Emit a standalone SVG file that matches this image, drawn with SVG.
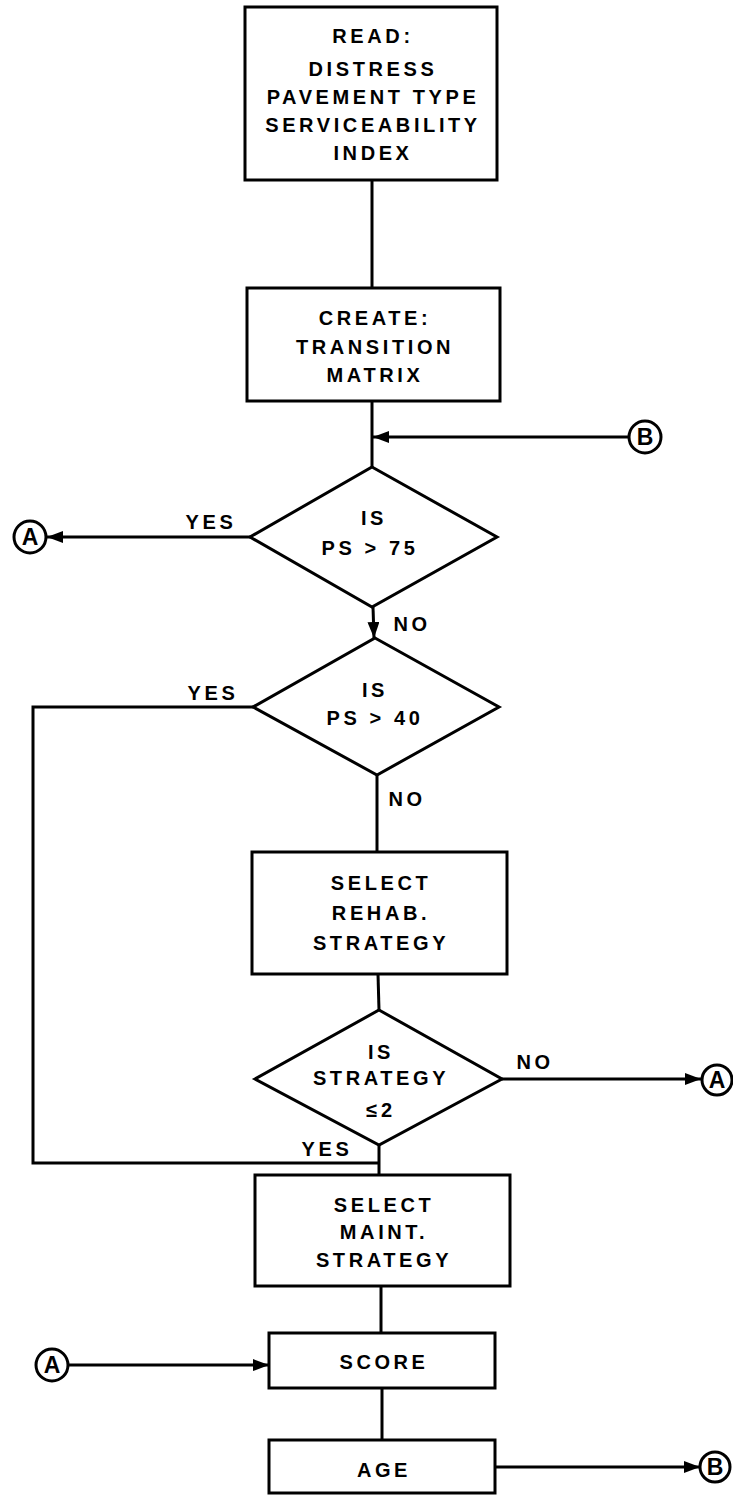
<svg xmlns="http://www.w3.org/2000/svg" width="733" height="1495" viewBox="0 0 733 1495">
<style>
.box{fill:#fff;stroke:#000;stroke-width:3}
.dia{fill:#fff;stroke:#000;stroke-width:3;stroke-linejoin:miter}
.ln{fill:none;stroke:#000;stroke-width:3}
.t{font-family:"Liberation Sans",Arial,sans-serif;font-weight:bold;font-size:20px;letter-spacing:3.6px;text-anchor:middle;fill:#000}
.c{font-family:"Liberation Sans",Arial,sans-serif;font-weight:bold;font-size:23px;text-anchor:middle;fill:#000}
.circ{fill:#fff;stroke:#000;stroke-width:3}
</style>
<defs>
<marker id="arr" markerUnits="userSpaceOnUse" markerWidth="16" markerHeight="12" refX="16" refY="6" orient="auto">
<path d="M0,0 L16,6 L0,12 z" fill="#000"/>
</marker>
</defs>
<rect width="733" height="1495" fill="#fff"/>
<g id="connectors">
<line class="ln" x1="372" y1="180" x2="372" y2="288"/>
<line class="ln" x1="372" y1="401" x2="372" y2="467"/>
<line class="ln" x1="629" y1="437" x2="373" y2="437" marker-end="url(#arr)"/>
<line class="ln" x1="250" y1="537" x2="47" y2="537" marker-end="url(#arr)"/>
<line class="ln" x1="373" y1="607" x2="374" y2="638" marker-end="url(#arr)"/>
<polyline class="ln" points="253,707 33,707 33,1163 379,1163"/>
<line class="ln" x1="377" y1="775" x2="377" y2="852"/>
<line class="ln" x1="378" y1="974" x2="379" y2="1010"/>
<line class="ln" x1="502" y1="1079" x2="701" y2="1079" marker-end="url(#arr)"/>
<line class="ln" x1="379" y1="1145" x2="379" y2="1175"/>
<line class="ln" x1="381" y1="1286" x2="381" y2="1333"/>
<line class="ln" x1="68" y1="1365" x2="269" y2="1365" marker-end="url(#arr)"/>
<line class="ln" x1="382" y1="1388" x2="382" y2="1440"/>
<line class="ln" x1="495" y1="1467" x2="700" y2="1467" marker-end="url(#arr)"/>
<text class="t" x="211" y="529">YES</text>
<text class="t" x="412" y="631">NO</text>
<text class="t" x="213" y="700">YES</text>
<text class="t" x="407" y="806">NO</text>
<text class="t" x="535" y="1069">NO</text>
<text class="t" x="327" y="1156">YES</text>
</g>
<g id="read">
<rect class="box" x="245" y="7" width="252" height="173"/>
<text class="t" x="373" y="43">READ:</text>
<text class="t" x="373" y="76">DISTRESS</text>
<text class="t" x="373" y="104">PAVEMENT TYPE</text>
<text class="t" x="373" y="132">SERVICEABILITY</text>
<text class="t" x="373" y="160">INDEX</text>
</g>
<g id="create">
<rect class="box" x="247" y="288" width="253" height="113"/>
<text class="t" x="375" y="325">CREATE:</text>
<text class="t" x="375" y="354">TRANSITION</text>
<text class="t" x="375" y="382">MATRIX</text>
</g>
<g id="connB1">
<circle class="circ" cx="645" cy="437" r="16"/>
<text class="c" x="645" y="445">B</text>
</g>
<g id="dec1">
<polygon class="dia" points="372,467 497,537 372,607 250,537"/>
<text class="t" x="374" y="525">IS</text>
<text class="t" x="370" y="555">PS &gt; 75</text>
</g>
<g id="connA1">
<circle class="circ" cx="30" cy="537" r="16"/>
<text class="c" x="30" y="545">A</text>
</g>
<g id="dec2">
<polygon class="dia" points="375,638 499,707 377,775 253,707"/>
<text class="t" x="375" y="697">IS</text>
<text class="t" x="375" y="725">PS &gt; 40</text>
</g>
<g id="rehab">
<rect class="box" x="252" y="852" width="255" height="122"/>
<text class="t" x="381" y="890">SELECT</text>
<text class="t" x="381" y="920">REHAB.</text>
<text class="t" x="381" y="950">STRATEGY</text>
</g>
<g id="dec3">
<polygon class="dia" points="379,1010 502,1079 379,1145 255,1079"/>
<text class="t" x="381" y="1059">IS</text>
<text class="t" x="381" y="1085">STRATEGY</text>
<text class="t" x="381" y="1117">≤2</text>
</g>
<g id="connA2">
<circle class="circ" cx="717" cy="1080" r="15"/>
<text class="c" x="717" y="1088">A</text>
</g>
<g id="maint">
<rect class="box" x="255" y="1175" width="255" height="111"/>
<text class="t" x="384" y="1212">SELECT</text>
<text class="t" x="384" y="1239">MAINT.</text>
<text class="t" x="384" y="1267">STRATEGY</text>
</g>
<g id="score">
<rect class="box" x="269" y="1333" width="226" height="55"/>
<text class="t" x="384" y="1369">SCORE</text>
</g>
<g id="connA3">
<circle class="circ" cx="52" cy="1365" r="16"/>
<text class="c" x="52" y="1373">A</text>
</g>
<g id="age">
<rect class="box" x="269" y="1440" width="226" height="53"/>
<text class="t" x="384" y="1477">AGE</text>
</g>
<g id="connB2">
<circle class="circ" cx="715" cy="1467" r="15"/>
<text class="c" x="715" y="1475">B</text>
</g>
</svg>
